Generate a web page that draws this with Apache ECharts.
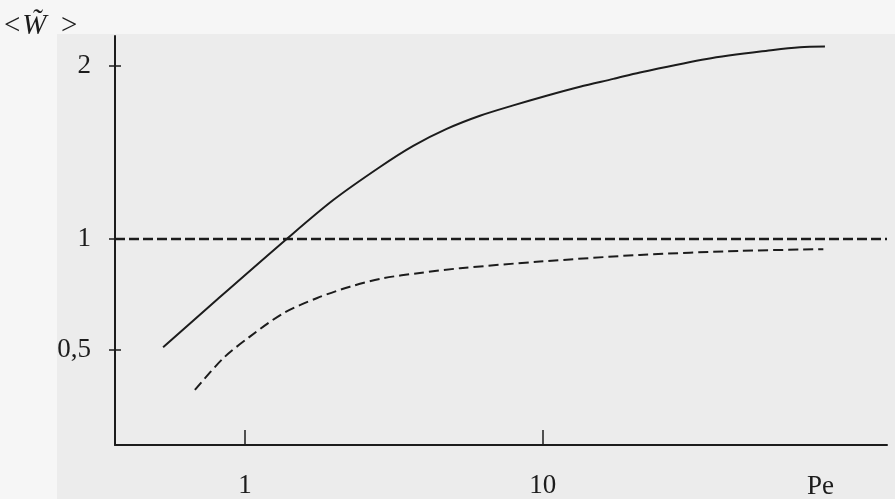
<!DOCTYPE html>
<html>
<head>
<meta charset="utf-8">
<script src="https://cdn.jsdelivr.net/npm/echarts@6/dist/echarts.min.js"></script>
<style>
html,body{margin:0;padding:0;background:#ececec;}
#chart{width:895px;height:499px;}
</style>
</head>
<body>
<div id="chart"></div>
<script>
// ---- data ----
const solidPe = [0.531, 0.803, 1.381, 1.98, 2.841, 3.675, 4.76, 6.158, 7.966, 10.31, 13.35, 17.27, 21.23, 35.56, 59.5, 73.2, 88.8];
const solidW  = [0.512, 0.725, 1.0, 1.225, 1.416, 1.538, 1.636, 1.712, 1.772, 1.828, 1.880, 1.925, 1.962, 2.040, 2.092, 2.108, 2.112];
const dashPe  = [0.679, 0.846, 1.039, 1.345, 1.741, 2.253, 2.914, 3.87, 5.28, 9.79, 21.2, 46.0, 87.7];
const dashW   = [0.320, 0.463, 0.560, 0.665, 0.733, 0.785, 0.823, 0.847, 0.868, 0.898, 0.928, 0.946, 0.954];
const refPe   = [0.366, 143.5];
const refW    = [1, 1];
const xTicks  = [1, 10];
const yTicks  = [0.5, 1, 2];

// The original's W axis is drawn with unequal spacing above and below 1:
// below 1 one unit of W spans 222 px, above 1 it spans 173 px.
const K = 173 / 222;
const toAxis = w => (w <= 1 ? w : 1 + (w - 1) * K);
const fromAxis = v => (v <= 1 ? v : 1 + (v - 1) / K);

const pairs = (xs, ys) => xs.map((x, i) => [x, toAxis(ys[i])]);

const FONT = '"Liberation Serif", "DejaVu Serif", serif';
const INK = '#1c1c1c';

const chart = echarts.init(document.getElementById('chart'), null, {renderer: 'canvas'});
const yCustom = yTicks.map(toAxis);

chart.setOption({
  backgroundColor: '#ececec',
  animation: false,
  grid: {left: 115, right: 8, top: 36, bottom: 54, containLabel: false},
  xAxis: {
    type: 'log',
    logBase: 10,
    min: refPe[0],
    max: refPe[1],
    axisLine: {show: true, lineStyle: {color: INK, width: 2}},
    axisTick: {show: true, inside: true, length: 15, customValues: xTicks, lineStyle: {color: INK, width: 1.5}},
    axisLabel: {show: true, customValues: xTicks, margin: 27, color: INK, fontFamily: FONT, fontSize: 27,
      formatter: v => String(Math.round(v))},
    splitLine: {show: false},
    minorTick: {show: false}
  },
  yAxis: [{
    type: 'value',
    min: 0.072,
    max: 1.914,
    axisLine: {show: true, lineStyle: {color: INK, width: 2}},
    axisTick: {show: true, inside: false, length: 6, customValues: yCustom, lineStyle: {color: INK, width: 1.5}},
    axisLabel: {show: true, customValues: yCustom, margin: 24, color: INK, fontFamily: FONT, fontSize: 27,
      formatter: v => {
        const w = Math.round(fromAxis(v) * 100) / 100;
        return String(w).replace('.', ',');
      }},
    splitLine: {show: false}
  }, {
    type: 'value',
    position: 'left',
    min: 0.072,
    max: 1.914,
    axisLine: {show: false},
    axisTick: {show: true, inside: true, length: 6, customValues: yCustom, lineStyle: {color: INK, width: 1.5}},
    axisLabel: {show: false},
    splitLine: {show: false}
  }],
  graphic: [
    {type: 'rect', z: -10, shape: {x: 0, y: 0, width: 57, height: 499}, style: {fill: '#f6f6f6'}},
    {type: 'rect', z: -10, shape: {x: 0, y: 0, width: 895, height: 34}, style: {fill: '#f6f6f6'}},
    {type: 'text', left: 4, top: 12, style: {
      text: '{a|<}{b|W\u0303}{a|  >}',
      rich: {
        a: {fontFamily: FONT, fontSize: 29, fill: INK},
        b: {fontFamily: FONT, fontSize: 29, fontStyle: 'italic', fill: INK, padding: [0, 0, 0, 2]}
      }
    }},
    {type: 'text', left: 807, top: 473, style: {text: 'Pe', fontFamily: FONT, fontSize: 27, fill: INK}}
  ],
  series: [
    {
      type: 'line', data: pairs(solidPe, solidW), smooth: 0.3, symbol: 'none',
      lineStyle: {color: INK, width: 2}
    },
    {
      type: 'line', data: pairs(dashPe, dashW), smooth: 0.3, symbol: 'none',
      lineStyle: {color: INK, width: 2, type: [10, 5]}
    },
    {
      type: 'line', data: pairs(refPe, refW), symbol: 'none',
      lineStyle: {color: INK, width: 2.5, type: [10, 4]}
    }
  ]
});
</script>
</body>
</html>
